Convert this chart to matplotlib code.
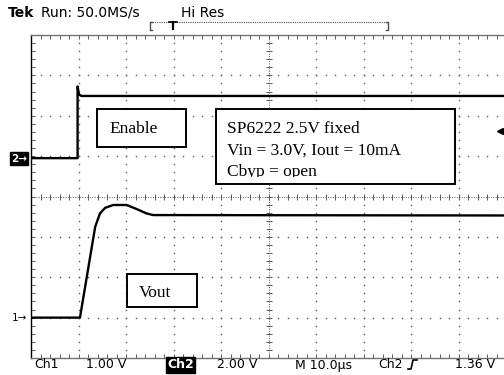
import numpy as np
import matplotlib.pyplot as plt
from matplotlib.patches import Rectangle
from matplotlib.transforms import Bbox

# scope settings
time_per_div = 10.0      # us/div
ch1_volts_per_div = 1.0
ch2_volts_per_div = 2.0
ch1_ground_div = -3.0
ch2_ground_div = 0.95
trigger_level = 1.36     # V on Ch2

# Ch2: Enable (us, V)
enable_t = [0.0, 9.8, 9.8, 10.1, 10.6, 100.0]
enable_v = [0.0, 0.0, 3.55, 3.15, 3.08, 3.08]

# Ch1: Vout (us, V)
vout_t = [0.0, 10.3, 13.5, 14.5, 15.6, 17.3, 20.1, 22.2, 24.3, 25.7, 100.0]
vout_v = [0.0, 0.0, 2.25, 2.58, 2.72, 2.79, 2.79, 2.69, 2.58, 2.54, 2.53]

W, H = 504, 375


def fx(x):
    return x / W


def fy(y):
    return 1 - y / H


fig = plt.figure(figsize=(5.04, 3.75), dpi=100)
ax = fig.add_axes([fx(31), fy(358), (506.5 - 31) / W, (358 - 35) / H])
ax.set_xlim(0, 10 * time_per_div)
ax.set_ylim(-4, 4)

# graticule
major_x = np.arange(0, 101, 10)
major_y = np.arange(-4, 5, 1)
minor_x = np.arange(0, 100.1, 2)
minor_y = np.arange(-4, 4.01, 0.2)
gcol = '0.35'
for xi in major_x[1:-1]:
    if xi == 50:
        continue
    ax.plot([xi] * len(minor_y), minor_y, ls='none', marker='s', ms=1.0, mew=0, color=gcol)
for yi in major_y[1:-1]:
    if yi == 0:
        continue
    ax.plot(minor_x, [yi] * len(minor_x), ls='none', marker='s', ms=1.0, mew=0, color=gcol)
ax.axhline(0, ls=(0, (1, 1.5)), lw=0.7, color=gcol)
ax.axvline(50, ls=(0, (1, 1.5)), lw=0.7, color=gcol)
ax.plot(minor_x, np.zeros_like(minor_x), ls='none', marker='|', ms=5, mew=0.7, color=gcol)
ax.plot(np.full_like(minor_y, 50), minor_y, ls='none', marker='_', ms=5, mew=0.7, color=gcol)

ax.set_xticks(minor_x)
ax.set_yticks(minor_y)
ax.tick_params(direction='in', length=3, width=0.7, color=gcol,
               top=True, bottom=True, left=True, right=False,
               labelbottom=False, labelleft=False)
ax.spines['left'].set_color('black')
ax.spines['top'].set_color('0.45')
ax.spines['bottom'].set_color('0.45')
ax.spines['right'].set_visible(False)
for s in ax.spines.values():
    s.set_linewidth(1.0)

# traces
ax.plot(enable_t, ch2_ground_div + np.array(enable_v) / ch2_volts_per_div, color='black', lw=1.7)
ax.plot(vout_t, ch1_ground_div + np.array(vout_v) / ch1_volts_per_div, color='black', lw=1.7)
ax.plot([98.7], [ch2_ground_div + trigger_level / ch2_volts_per_div], marker='<', ms=5,
        color='black', clip_on=False)

# annotation boxes
serif = 'Liberation Serif'


def box(x0, y0, x1, y1):
    r = Rectangle((fx(x0), fy(y1)), fx(x1) - fx(x0), fy(y0) - fy(y1), transform=fig.transFigure,
                  facecolor='white', edgecolor='black', lw=1.4, zorder=5)
    fig.add_artist(r)


box(97, 109, 186, 147)
fig.text(fx(109), fy(133.3), 'Enable', family=serif, fontsize=12.5, va='baseline', zorder=6)

box(216, 109, 455, 184)
fig.text(fx(227), fy(133.3), 'SP6222 2.5V fixed', family=serif, fontsize=12.5, va='baseline', zorder=6)
fig.text(fx(227), fy(154.5), 'Vin = 3.0V, Iout = 10mA', family=serif, fontsize=12.5, va='baseline', zorder=6)
t3 = fig.text(fx(227), fy(176.5), 'Cbyp = open', family=serif, fontsize=12.5, va='baseline', zorder=6)
t3.set_clip_box(Bbox.from_extents(216, H - 177, 455, H - 109))
t3.set_clip_on(True)

box(127, 274, 197, 307)
fig.text(fx(139), fy(296.7), 'Vout', family=serif, fontsize=12.5, va='baseline', zorder=6)

# channel markers
fig.text(fx(11), fy(158.5), '2\u2192', color='white', fontsize=7.5, weight='bold', va='center',
         bbox=dict(boxstyle='square,pad=0.1', fc='black', ec='black'))
fig.text(fx(12), fy(318), '1\u2192', color='black', fontsize=7.5, va='center')

# header
fig.text(fx(8), fy(13), 'Tek', fontsize=10, weight='bold', va='center')
fig.text(fx(41), fy(13), 'Run: 50.0MS/s', fontsize=10, va='center')
fig.text(fx(181), fy(13), 'Hi Res', fontsize=10, va='center')
fig.add_artist(plt.Line2D([fx(150), fx(388)], [fy(21.5), fy(21.5)], lw=0.8, ls=(0, (1, 1)), color='0.3'))
fig.add_artist(plt.Line2D([fx(152), fx(150), fx(150), fx(152)], [fy(21.5), fy(21.5), fy(30), fy(30)],
                          lw=1.0, color='0.3'))
fig.add_artist(plt.Line2D([fx(386), fx(388), fx(388), fx(386)], [fy(21.5), fy(21.5), fy(30), fy(30)],
                          lw=1.0, color='0.3'))
fig.add_artist(plt.Line2D([fx(169), fx(177)], [fy(21.5), fy(21.5)], lw=1.2, color='black'))
fig.add_artist(plt.Line2D([fx(173), fx(173)], [fy(21.5), fy(29)], lw=1.6, color='black'))

# footer
fy_txt = fy(365)
fig.text(fx(34), fy_txt, 'Ch1', fontsize=9, va='center')
fig.text(fx(86), fy_txt, '1.00 V', fontsize=9, va='center')
fig.text(fx(167), fy_txt, 'Ch2', fontsize=9, color='white', weight='bold', va='center',
         bbox=dict(boxstyle='square,pad=0.1', fc='black', ec='black'))
fig.text(fx(217), fy_txt, '2.00 V', fontsize=9, va='center')
fig.text(fx(295), fy_txt, 'M 10.0\u00b5s', fontsize=9, va='center')
fig.text(fx(378), fy_txt, 'Ch2', fontsize=9, va='center')
fig.add_artist(plt.Line2D([fx(408), fx(411), fx(413), fx(417)], [fy(369), fy(369), fy(360), fy(360)],
                          lw=1.2, color='black'))
fig.text(fx(455), fy_txt, '1.36 V', fontsize=9, va='center')

fig.savefig('out.png', dpi=100)
